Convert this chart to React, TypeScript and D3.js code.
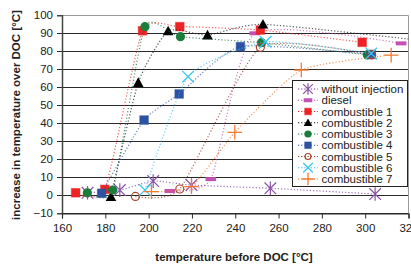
import React, {useRef, useEffect} from 'react';
import * as d3 from 'd3';

// series names (legend order)
const seriesNames = ['without injection', 'diesel', 'combustible 1', 'combustible 2', 'combustible 3',
                     'combustible 4', 'combustible 5', 'combustible 6', 'combustible 7'];

// values: temperature before DOC / increase over DOC
const withoutInjX = [171.8, 186.7, 202.1, 219.8, 256.2, 304.6];
const withoutInjY = [1.4, 2.9, 7.9, 5.7, 3.9, 0.7];
const dieselX = [209.8, 228.7, 249, 316.6];
const dieselY = [2.4, 9, 90, 84.4];
const comb1X = [166.3, 179.8, 197.2, 214.4, 251.6, 298.6];
const comb1Y = [1.4, 3.3, 91.4, 93.7, 91.8, 85];
const comb2X = [182.6, 195.2, 209, 227.2, 252.8, 326];
const comb2Y = [-0.8, 62.6, 91.3, 89, 95, 86];
const comb3X = [171.7, 183.4, 198.3, 214.7, 252.1, 301];
const comb3Y = [1.4, 2.9, 93.7, 88.1, 84.8, 78];
const comb4X = [178.3, 197.9, 214.1, 242.4, 302.8];
const comb4Y = [1.1, 41.8, 56.3, 82.6, 78.3];
const comb5X = [193.9, 214.4, 251.6, 303];
const comb5Y = [-0.6, 3.5, 82.2, 78];
const comb6X = [198.3, 218.2, 254, 302.8];
const comb6Y = [2.9, 65.9, 85.3, 78.8];
const comb7X = [201.3, 219.8, 239.8, 270.5, 312];
const comb7Y = [2, 4.8, 35, 69.6, 77.9];

const xTicks = [160, 180, 200, 220, 240, 260, 280, 300, 320];
const yTicks = [-10, 0, 10, 20, 30, 40, 50, 60, 70, 80, 90, 100];

const allX = [withoutInjX, dieselX, comb1X, comb2X, comb3X, comb4X, comb5X, comb6X, comb7X];
const allY = [withoutInjY, dieselY, comb1Y, comb2Y, comb3Y, comb4Y, comb5Y, comb6Y, comb7Y];

const styles = [
  {marker: 'asterisk', color: '#8a52a6', line: '#7030a0'},
  {marker: 'bar', color: '#c452b4', line: '#b94aa8'},
  {marker: 'square', color: '#ee2326', line: '#ee1c1c'},
  {marker: 'triangle', color: '#000000', line: '#111111'},
  {marker: 'circle', color: '#1b7d3c', line: '#15683a'},
  {marker: 'square', color: '#2d52a4', line: '#2d4ea0'},
  {marker: 'ocircle', color: '#a5462a', line: '#8b2a1a'},
  {marker: 'x', color: '#3cc8f0', line: '#2cbdf0'},
  {marker: 'plus', color: '#f47a30', line: '#f06a20'},
];

function drawMarker(g: any, type: string, color: string, cx: number, cy: number, s: number) {
  if (type === 'square') {
    g.append('rect').attr('x', cx - s).attr('y', cy - s).attr('width', 2 * s).attr('height', 2 * s)
      .attr('fill', color).attr('stroke', color).attr('stroke-opacity', 0.5);
  } else if (type === 'triangle') {
    g.append('path').attr('d', `M${cx},${cy - s - 1}L${cx + s + 1},${cy + s}L${cx - s - 1},${cy + s}Z`).attr('fill', color);
  } else if (type === 'circle') {
    g.append('circle').attr('cx', cx).attr('cy', cy).attr('r', s + 0.3).attr('fill', color);
  } else if (type === 'ocircle') {
    g.append('circle').attr('cx', cx).attr('cy', cy).attr('r', s - 0.3).attr('fill', 'none')
      .attr('stroke', color).attr('stroke-width', 1.2);
  } else if (type === 'bar') {
    g.append('rect').attr('x', cx - s - 1).attr('y', cy - 2).attr('width', 2 * s + 2).attr('height', 4).attr('fill', color);
  } else if (type === 'x') {
    const h = s + 1.5;
    g.append('path').attr('d', `M${cx - h},${cy - h}L${cx + h},${cy + h}M${cx - h},${cy + h}L${cx + h},${cy - h}`)
      .attr('stroke', color).attr('stroke-width', 1.3).attr('fill', 'none');
  } else if (type === 'plus') {
    const h = s + 3;
    g.append('path').attr('d', `M${cx - h},${cy}L${cx + h},${cy}M${cx},${cy - h}L${cx},${cy + h}`)
      .attr('stroke', color).attr('stroke-width', 1.3).attr('fill', 'none');
  } else if (type === 'asterisk') {
    const h = s + 1.5;
    g.append('path').attr('d', `M${cx - h},${cy - h}L${cx + h},${cy + h}M${cx - h},${cy + h}L${cx + h},${cy - h}M${cx},${cy - h - 1}L${cx},${cy + h + 1}`)
      .attr('stroke', color).attr('stroke-width', 1.2).attr('fill', 'none');
  }
}

function Chart() {
  const canvas = useRef(null);

  useEffect(() => {
    const width = 411, height = 264;
    d3.select(canvas.current).select('svg').remove();
    const svg = d3.select(canvas.current).append('svg')
      .attr('width', width).attr('height', height)
      .style('font-family', '"Liberation Sans", Arial, sans-serif');

    const x = d3.scaleLinear().domain([160, 320]).range([62, 408.5]);
    const y = d3.scaleLinear().domain([-10, 100]).range([213.3, 15.3]);

    svg.append('defs').append('clipPath').attr('id', 'plotclip')
      .append('rect').attr('x', 62).attr('y', 0).attr('width', 346.5).attr('height', 240);

    // gridlines
    svg.append('g').selectAll('line').data(yTicks.filter(d => d < 100)).enter().append('line')
      .attr('x1', 57).attr('x2', 408.5).attr('y1', d => Math.round(y(d)) + 0.5).attr('y2', d => Math.round(y(d)) + 0.5)
      .attr('stroke', '#2a2a2a').attr('stroke-width', 1.2);
    // top and right border
    svg.append('line').attr('x1', 57).attr('x2', 408.5).attr('y1', 15.5).attr('y2', 15.5).attr('stroke', '#999');
    svg.append('line').attr('x1', 408.5).attr('x2', 408.5).attr('y1', 15.5).attr('y2', 213.5).attr('stroke', '#999');

    // y axis
    const yAxis = svg.append('g').attr('transform', 'translate(62,0)')
      .call(d3.axisLeft(y).tickValues(yTicks).tickSize(5).tickPadding(4));
    yAxis.select('.domain').attr('stroke', '#444').attr('stroke-width', 1.5);
    yAxis.selectAll('.tick line').remove();
    yAxis.selectAll('text').style('font-size', '11.5px').attr('fill', '#222').attr('font-family', '"Liberation Sans", Arial, sans-serif');

    // x axis
    const xAxis = svg.append('g').attr('transform', 'translate(0,213.5)')
      .call(d3.axisBottom(x).tickValues(xTicks).tickSize(5).tickPadding(5));
    xAxis.select('.domain').attr('stroke', '#2a2a2a').attr('stroke-width', 1.2);
    xAxis.selectAll('.tick line').attr('stroke', '#2a2a2a');
    xAxis.selectAll('text').style('font-size', '11.5px').attr('fill', '#222').attr('font-family', '"Liberation Sans", Arial, sans-serif');

    // titles
    svg.append('text').attr('x', 234).attr('y', 261).attr('text-anchor', 'middle')
      .style('font-size', '11.5px').style('font-weight', 'bold').attr('fill', '#222')
      .text('temperature before DOC [°C]');
    svg.append('text').attr('transform', 'translate(20,115)rotate(-90)').attr('text-anchor', 'middle')
      .style('font-size', '11.5px').style('font-weight', 'bold').attr('fill', '#222')
      .text('increase in temperature over DOC [°C]');

    const line = d3.line().curve(d3.curveCardinal.tension(0.45));
    const plot = svg.append('g').attr('clip-path', 'url(#plotclip)');

    allX.forEach((xs, i) => {
      const pts = xs.map((v, j) => [x(v), y(allY[i][j])]);
      plot.append('path').attr('d', line(pts as any))
        .attr('fill', 'none').attr('stroke', styles[i].line).attr('stroke-width', 1.2)
        .attr('stroke-dasharray', '1.2,2').attr('stroke-opacity', 0.7);
      pts.forEach(p => drawMarker(plot, styles[i].marker, styles[i].color, p[0], p[1], 4.3));
    });

    // legend
    const lg = svg.append('g');
    lg.append('rect').attr('x', 292.5).attr('y', 80.5).attr('width', 115).attr('height', 106)
      .attr('fill', 'white').attr('stroke', '#222').attr('stroke-width', 1);
    seriesNames.forEach((name, i) => {
      const cy = 89 + i * 11.25;
      lg.append('line').attr('x1', 298).attr('x2', 318).attr('y1', cy).attr('y2', cy)
        .attr('stroke', styles[i].line).attr('stroke-width', 1.2).attr('stroke-dasharray', '1.2,2');
      drawMarker(lg, styles[i].marker, styles[i].color, 308, cy, 3.3);
      lg.append('text').attr('x', 321.5).attr('y', cy + 4).style('font-size', '11.5px').attr('fill', '#222')
        .text(name);
    });
  }, []);

  return (
    <div ref={canvas} style={{position: 'absolute', left: 0, top: 0}}></div>
  );
}

export default function App() {
  return <Chart />;
}
